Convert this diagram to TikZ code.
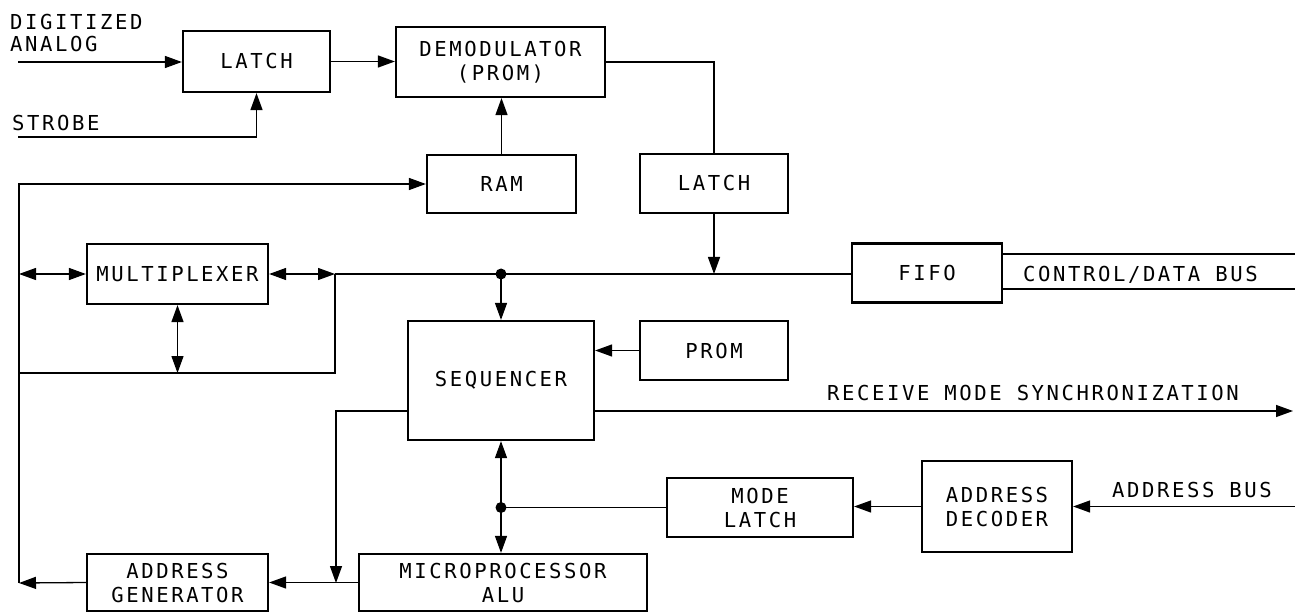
\documentclass[tikz,border=0pt]{standalone}
\usepackage{fontspec}
\newfontfamily\hfont{DejaVu Sans Mono}[LetterSpace=12.5]
\usetikzlibrary{arrows.meta,calc}
\begin{document}
\begin{tikzpicture}[x=1pt,y=-1pt,
  txt/.style={font=\hfont\fontsize{20.6}{24}\selectfont, inner sep=0pt},
  blk/.style 2 args={txt, draw, line width=2.2pt, align=center, minimum width=#1pt, minimum height=#2pt},
  ln/.style={line width=1.3pt},
  arr/.style={ln, -{Triangle[length=17pt,width=12pt]}},
  darr/.style={ln, {Triangle[length=17pt,width=12pt]}-{Triangle[length=17pt,width=12pt]}}]
\useasboundingbox (0,0) rectangle (1295,612);
% blocks
\node[blk={147}{61}] (latchA) at (256.5,61.5) {LATCH};
\node[blk={209}{70}] (demod) at (500.5,62) {DEMODULATOR\\(PROM)};
\node[blk={149}{58}] (ram) at (501.5,184) {RAM};
\node[blk={148}{59}] (latchB) at (714,183.5) {LATCH};
\node[blk={181}{60}] (mux) at (177.5,274) {MULTIPLEXER};
\node[blk={186}{119}] (seq) at (501,380.5) {SEQUENCER};
\node[blk={148}{59}] (prom) at (714,350.5) {PROM};
\node[blk={150}{59}] (fifo) at (927,273) {FIFO};
\node[blk={181}{57}] (agen) at (177.5,582.5) {ADDRESS\\GENERATOR};
\node[blk={288}{57}] (alu) at (503,582.5) {MICROPROCESSOR\\ALU};
\node[blk={186}{59}] (mlatch) at (760,507.5) {MODE\\LATCH};
\node[blk={150}{91}] (adec) at (997,506.5) {ADDRESS\\DECODER};
% labels
\node[txt, anchor=base west] (lDig) at (10,30) {DIGITIZED};
\node[txt, anchor=base west] (lAna) at (10,52) {ANALOG};
\node[txt, anchor=base west] (lStr) at (12,131) {STROBE};
\node[txt, anchor=base west] (lCtl) at (1023,281) {CONTROL/DATA BUS};
\node[txt, anchor=base west] (lRms) at (827,400) {RECEIVE MODE SYNCHRONIZATION};
\node[txt, anchor=base west] (lAb) at (1112,497) {ADDRESS BUS};
% coordinates
\coordinate (inA) at (18,62);
\coordinate (inS) at (18,137);
\coordinate (cL) at (19,583);
\coordinate (cML) at (19,274);
\coordinate (cMR) at (335,274);
\coordinate (cMB) at (335,373);
\coordinate (cLB) at (19,373);
\coordinate (rms) at (1293,411);
\coordinate (cG) at (336,583);
\coordinate (ab) at (1295,506.5);
\coordinate (cb1) at (1295,254);
\coordinate (cb2) at (1295,289);
% connectors
\draw[arr] (inA) -- (inA -| latchA.west);
\draw[arr] (inS) -| (latchA.south);
\draw[arr] (latchA.east) -- (latchA.east -| demod.west);
\draw[ln] (demod.east) -| (latchB.north);
\draw[arr] (ram.north) -- (ram.north |- demod.south);
\draw[arr] (agen.west) -- (cL);
\draw[arr] (cL) |- (ram.west);
\draw[darr] (cML) -- (mux.west);
\draw[darr] (mux.east) -- (cMR);
\draw[ln] (cMR) -- (fifo.west |- cMR);
\draw[ln] (cMR) -- (cMB) -- (cLB);
\draw[darr] (mux.south) -- (mux.south |- cLB);
\draw[arr] (latchB.south) -- (latchB.south |- cMR);
\fill (seq.north |- cMR) circle (5.5pt);
\draw[arr] (seq.north |- cMR) -- (seq.north);
\draw[arr] (prom.west) -- (prom.west -| seq.east);
\draw[arr] (seq.east |- rms) -- (rms);
\draw[arr] (seq.west |- rms) -| (cG);
\draw[arr] (alu.west) -- (agen.east);
\draw[darr] (seq.south) -- (seq.south |- alu.north);
\fill (seq.south |- mlatch.west) circle (5.5pt);
\draw[ln] (mlatch.west) -- (seq.south |- mlatch.west);
\draw[arr] (adec.west) -- (adec.west -| mlatch.east);
\draw[arr] (ab) -- (adec.east);
\draw[ln] (fifo.east |- cb1) -- (cb1);
\draw[ln] (fifo.east |- cb2) -- (cb2);
\end{tikzpicture}
\end{document}
